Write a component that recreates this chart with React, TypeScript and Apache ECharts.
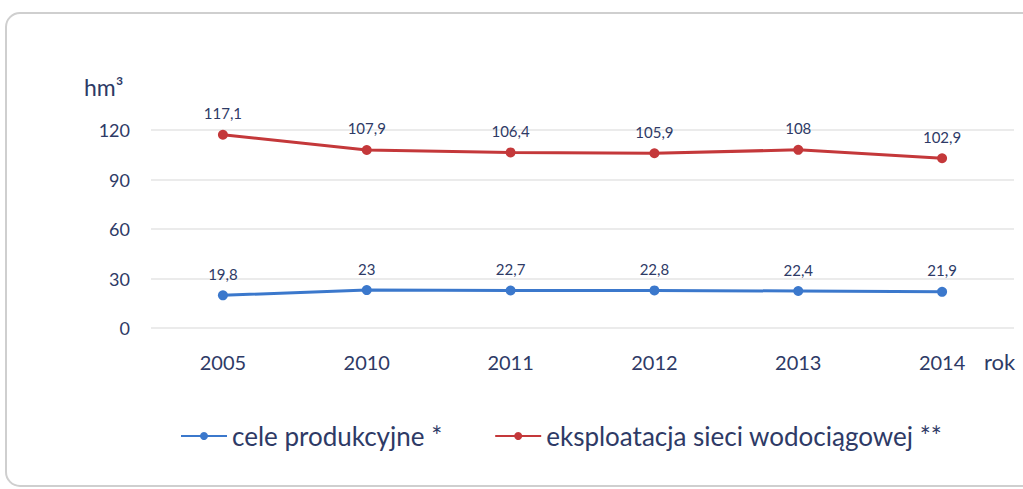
import React, { useEffect, useRef } from "react";
import * as echarts from "echarts";

const years = ["2005", "2010", "2011", "2012", "2013", "2014"];
const celeProdukcyjne = [19.8, 23, 22.7, 22.8, 22.4, 21.9];
const eksploatacja = [117.1, 107.9, 106.4, 105.9, 108, 102.9];
const seriesNames = ["cele produkcyjne *", "eksploatacja sieci wodociągowej **"];

const FONT = "Lato, 'Open Sans', sans-serif";
const TXT = "#2e3a66";

const fmt = (v: number) => String(v).replace(".", ",");

export default function App() {
  const ref = useRef<HTMLDivElement>(null);
  useEffect(() => {
    if (!ref.current) return;
    const chart = echarts.init(ref.current, null, { renderer: "svg" });
    const label = {
      show: true,
      position: "top",
      distance: 9,
      fontSize: 15,
      color: TXT,
      fontFamily: FONT,
      formatter: (p: any) => fmt(p.value),
    };
    chart.setOption({
      animation: false,
      backgroundColor: "#ffffff",
      textStyle: { fontFamily: FONT },
      graphic: [
        {
          type: "rect",
          shape: { x: 6, y: 13, width: 1030, height: 473, r: 14 },
          style: { fill: "none", stroke: "#cfcfcf", lineWidth: 2 },
          silent: true,
        },
        {
          type: "text",
          left: 84,
          top: 75,
          style: { text: "hm³", fontSize: 23, fill: TXT, fontFamily: FONT },
        },
        {
          type: "text",
          left: 984,
          top: 350,
          style: { text: "rok", fontSize: 22, fill: TXT, fontFamily: FONT },
        },
      ],
      legend: {
        top: 418,
        left: 175,
        itemGap: 52,
        itemWidth: 46,
        itemHeight: 10,
        textStyle: { fontSize: 26, color: TXT, fontFamily: FONT },
        data: seriesNames,
      },
      grid: { left: 151, right: 9, top: 130, bottom: 161 },
      xAxis: {
        type: "category",
        data: years,
        boundaryGap: true,
        axisLine: { show: false },
        axisTick: { show: false },
        axisLabel: { fontSize: 20, color: TXT, margin: 24, fontFamily: FONT },
      },
      yAxis: {
        type: "value",
        min: 0,
        max: 120,
        interval: 30,
        axisLine: { show: false },
        axisTick: { show: false },
        axisLabel: { fontSize: 18, color: TXT, margin: 21, fontFamily: FONT },
        splitLine: { lineStyle: { color: "#e4e4e4", width: 1.5 } },
      },
      series: [
        {
          name: seriesNames[0],
          type: "line",
          data: celeProdukcyjne,
          symbol: "circle",
          symbolSize: 10,
          lineStyle: { color: "#3b78cc", width: 3 },
          itemStyle: { color: "#3b78cc" },
          label,
        },
        {
          name: seriesNames[1],
          type: "line",
          data: eksploatacja,
          symbol: "circle",
          symbolSize: 10,
          lineStyle: { color: "#c4383a", width: 3 },
          itemStyle: { color: "#c4383a" },
          label,
        },
      ],
    });
    return () => chart.dispose();
  }, []);
  return (
    <div
      ref={ref}
      style={{ position: "absolute", left: 0, top: 0, width: 1023, height: 489 }}
    />
  );
}
